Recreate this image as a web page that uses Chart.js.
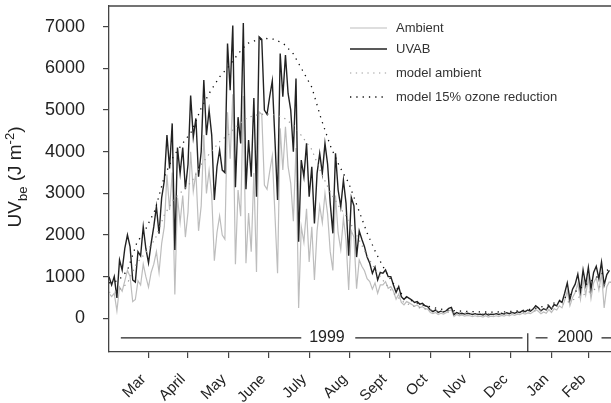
<!DOCTYPE html>
<html>
<head>
<meta charset="utf-8">
<script src="https://cdn.jsdelivr.net/npm/chart.js@4.4.1/dist/chart.umd.min.js"></script>
<style>
  html, body { margin: 0; padding: 0; background: #fff; }
  #wrap { width: 611px; height: 403px; }
</style>
</head>
<body>
<div id="wrap"><canvas id="uv-chart" width="611" height="403"></canvas></div>
<script>
// measured daily UV_be (J m-2), one reading every 2nd day from 13 Feb 1999
var ambient = [
  600, 520, 600, 180, 750, 650, 900, 1150, 1000, 400,
  450, 900, 800, 1300, 1000, 750, 1100, 1300, 1600, 1100,
  1800, 2200, 3450, 2600, 3500, 570, 2900, 2300, 2950, 1950,
  2550, 4000, 3050, 3500, 2100, 2700, 4400, 3000, 3550, 2950,
  1380, 2060, 2460, 2000, 1900, 4950, 3830, 5380, 1300, 3080,
  2450, 5340, 1320, 2530, 1600, 3490, 1110, 4960, 4900, 3200,
  3100, 3520, 3900, 2500, 1080, 4560, 3560, 4600, 3640, 3240,
  2330, 4090, 250, 2200, 1830, 2630, 1350, 2200, 920, 2100,
  2700, 2300, 3000, 2500, 1600, 1150, 2950, 2050, 1650, 2400,
  1880, 680, 2100, 1950, 710, 1400, 1250, 1140, 950, 880,
  700, 850, 600, 800, 800, 880, 720, 760, 650, 460,
  580, 380, 320, 400, 370, 330, 290, 320, 260, 280,
  230, 220, 140, 110, 140, 90, 120, 100, 130, 180,
  200, 40, 90, 60, 80, 50, 70, 60, 40, 60,
  40, 50, 30, 60, 30, 50, 40, 60, 40, 70,
  50, 80, 60, 90, 70, 100, 90, 120, 100, 130,
  110, 150, 210, 170, 110, 150, 120, 210, 140, 230,
  200, 300, 250, 430, 650, 300, 500, 620, 830, 450,
  920, 560, 960, 470, 850, 980, 680, 1080, 250, 760, 880
];
var uvab = [
  1000, 800, 1000, 490, 1400, 1160, 1680, 2000, 1720, 920,
  870, 1600, 1500, 2200, 1670, 1330, 1800, 2200, 2680, 2030,
  2900, 3300, 4400, 3600, 4680, 1640, 4100, 3480, 4100, 3100,
  3700, 5350, 4350, 4800, 3400, 4000, 5720, 4400, 5000, 4400,
  2840, 3640, 4040, 3560, 3500, 6600, 5480, 7030, 3150, 4830,
  4200, 7090, 3100, 4280, 3400, 5290, 2920, 6760, 6700, 5000,
  4900, 5320, 5700, 4300, 2840, 6360, 5320, 6320, 5400, 5000,
  4000, 5760, 1840, 3800, 3400, 4200, 2920, 3640, 2280, 3480,
  3960, 3480, 4200, 3700, 2760, 2040, 3960, 3080, 2680, 3320,
  2760, 1500, 2900, 2700, 1470, 2100, 1900, 1720, 1470, 1320,
  1080, 1230, 920, 1100, 1080, 1160, 1000, 1000, 800, 620,
  760, 520, 450, 520, 480, 440, 380, 400, 340, 360,
  300, 280, 200, 160, 200, 140, 170, 150, 180, 240,
  260, 90, 140, 110, 120, 100, 120, 110, 90, 110,
  90, 100, 80, 110, 80, 100, 90, 110, 90, 120,
  100, 130, 110, 140, 120, 150, 140, 180, 160, 200,
  170, 220, 300, 250, 180, 230, 200, 300, 220, 330,
  300, 420, 380, 600, 850, 450, 700, 820, 1060, 650,
  1160, 800, 1220, 700, 1100, 1250, 950, 1350, 800, 1050, 1150
];
// modelled clear-sky doses, one value every 7 days
var modelAmbient = [
  620, 660, 840, 1320, 1580, 1900, 2480, 2850, 3070, 3290,
  3690, 3980, 4240, 4420, 4640, 4820, 4880, 4910, 4890, 4810,
  4640, 4350, 4050, 3500, 3030, 2670, 2370, 1940, 1500, 1130,
  830, 570, 380, 290, 235, 195, 160, 140, 128, 120,
  113, 110, 110, 113, 124, 142, 165, 205, 250, 320,
  410, 510, 620, 730, 840, 910
];
var modelOzone = [
  850, 900, 1150, 1800, 2150, 2600, 3400, 3900, 4200, 4500,
  5050, 5450, 5800, 6050, 6350, 6600, 6680, 6720, 6700, 6580,
  6350, 5950, 5550, 4800, 4150, 3650, 3250, 2650, 2050, 1550,
  1130, 780, 520, 400, 320, 270, 220, 190, 175, 165,
  155, 150, 150, 155, 170, 195, 225, 280, 340, 440,
  560, 700, 850, 1000, 1150, 1250
];

var monthDays = [30, 60, 91, 121, 152, 183, 213, 244, 274, 305, 336, 364];
var monthLabels = ['Mar', 'April', 'May', 'June', 'July', 'Aug', 'Sept', 'Oct', 'Nov', 'Dec', 'Jan', 'Feb'];
var yTicks = [0, 1000, 2000, 3000, 4000, 5000, 6000, 7000];

const FONT = '"Liberation Sans", Arial, Helvetica, sans-serif';
const INK = '#222';

function toPoints(values, step) {
  return values.map((v, i) => ({ x: i * step, y: v }));
}

// frame top, month labels, year bar, legend, y title
const extras = {
  id: 'extras',
  afterDraw(chart) {
    const { ctx, chartArea: a, scales: { x, y } } = chart;
    ctx.save();

    ctx.strokeStyle = '#444';
    ctx.lineWidth = 1.3;
    ctx.beginPath();
    ctx.moveTo(a.left - 0.6, a.top);
    ctx.lineTo(a.right, a.top);
    ctx.stroke();

    // rotated month names
    ctx.fillStyle = INK;
    ctx.font = '15px ' + FONT;
    ctx.textAlign = 'right';
    ctx.textBaseline = 'middle';
    monthDays.forEach((d, i) => {
      ctx.save();
      ctx.translate(x.getPixelForValue(d) - 5, a.bottom + 25);
      ctx.rotate(-Math.PI / 4);
      ctx.fillText(monthLabels[i], 0, 0);
      ctx.restore();
    });

    // year bar below zero
    const yy = y.getPixelForValue(-470);
    ctx.strokeStyle = INK;
    ctx.lineWidth = 1.2;
    [[9, 146], [187, 314], [324, 333], [374, 400]].forEach(s => {
      ctx.beginPath();
      ctx.moveTo(x.getPixelForValue(s[0]), yy);
      ctx.lineTo(x.getPixelForValue(s[1]), yy);
      ctx.stroke();
    });
    ctx.beginPath();
    ctx.moveTo(x.getPixelForValue(318), y.getPixelForValue(-360));
    ctx.lineTo(x.getPixelForValue(318), a.bottom);
    ctx.stroke();
    ctx.font = '16px ' + FONT;
    ctx.textAlign = 'center';
    ctx.fillText('1999', x.getPixelForValue(165.5), yy);
    ctx.fillText('2000', x.getPixelForValue(354), yy);

    // legend
    const rows = [28, 49, 73, 97];
    ctx.font = '13px ' + FONT;
    ctx.textAlign = 'left';
    chart.data.datasets.forEach((ds, i) => {
      ctx.save();
      ctx.strokeStyle = ds.borderColor;
      ctx.lineWidth = ds.borderWidth;
      ctx.setLineDash(ds.borderDash || []);
      ctx.beginPath();
      ctx.moveTo(350, rows[i]);
      ctx.lineTo(387, rows[i]);
      ctx.stroke();
      ctx.restore();
      ctx.fillStyle = '#333';
      ctx.fillText(ds.label, 396, rows[i]);
    });

    // y title with sub/superscript
    const big = '19px ' + FONT, small = '13px ' + FONT;
    const parts = [['UV', big, 0], ['be', small, 6], [' (J m', big, 0], ['-2', small, -7], [')', big, 0]];
    let total = 0;
    parts.forEach(p => { ctx.font = p[1]; total += ctx.measureText(p[0]).width; });
    ctx.translate(21, (a.top + a.bottom) / 2 - 2 + total / 2);
    ctx.rotate(-Math.PI / 2);
    ctx.textAlign = 'left';
    ctx.textBaseline = 'alphabetic';
    ctx.fillStyle = INK;
    let cx = 0;
    parts.forEach(p => {
      ctx.font = p[1];
      ctx.fillText(p[0], cx, p[2]);
      cx += ctx.measureText(p[0]).width;
    });
    ctx.restore();
  }
};

new Chart(document.getElementById('uv-chart'), {
  type: 'line',
  data: {
    datasets: [
      { label: 'Ambient', data: toPoints(ambient, 2), borderColor: '#bdbdbd', borderWidth: 1.2, order: 3 },
      { label: 'UVAB', data: toPoints(uvab, 2), borderColor: '#222', borderWidth: 1.4, order: 2 },
      { label: 'model ambient', data: toPoints(modelAmbient, 7), borderColor: '#9a9a9a', borderWidth: 1.2, borderDash: [1.3, 4.5], order: 1 },
      { label: 'model 15% ozone reduction', data: toPoints(modelOzone, 7), borderColor: '#111', borderWidth: 1.3, borderDash: [1.3, 5], order: 0 }
    ]
  },
  options: {
    responsive: false,
    animation: false,
    events: [],
    elements: { point: { radius: 0 }, line: { tension: 0, fill: false } },
    layout: { padding: { top: 6, right: 0, bottom: 0, left: 0 } },
    plugins: { legend: { display: false }, tooltip: { enabled: false } },
    scales: {
      x: {
        type: 'linear', min: 0, max: 381.2,
        afterBuildTicks: s => { s.ticks = monthDays.map(v => ({ value: v })); },
        afterFit: s => { s.height = 51; s.paddingLeft = 0; s.paddingRight = 0; },
        grid: { drawOnChartArea: false, tickLength: 6, color: '#444', lineWidth: 1.2 },
        border: { color: '#444', width: 1.3 },
        ticks: { display: false }
      },
      y: {
        type: 'linear', min: -810, max: 7500,
        afterBuildTicks: s => { s.ticks = yTicks.map(v => ({ value: v })); },
        afterFit: s => { s.width = 109; s.paddingTop = 0; s.paddingBottom = 0; },
        grid: { drawOnChartArea: false, tickLength: 6, color: '#444', lineWidth: 1.2 },
        border: { color: '#444', width: 1.3 },
        ticks: { color: INK, padding: 18, font: { family: FONT, size: 18 }, callback: v => String(v) }
      }
    }
  },
  plugins: [extras]
});
</script>
</body>
</html>
